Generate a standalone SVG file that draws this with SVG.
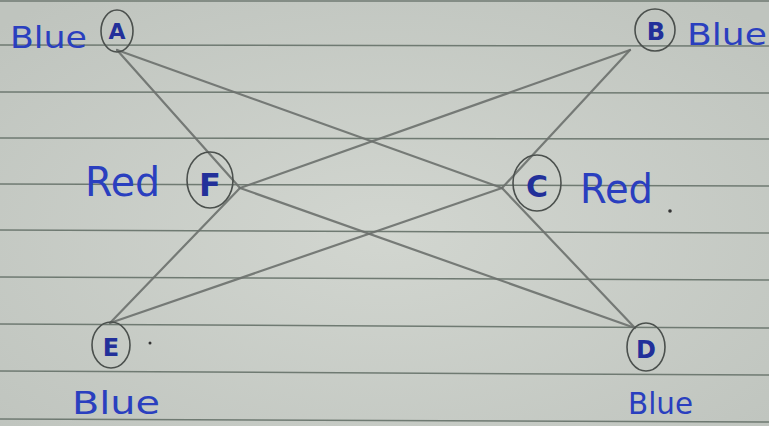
<svg xmlns="http://www.w3.org/2000/svg" width="769" height="426" viewBox="0 0 769 426">
<style>
.rule{stroke:#6f7a72;stroke-width:1.5}
.edge{stroke:#6c706d;stroke-width:2.2;stroke-linecap:round;fill:none;opacity:.9}
.ring{fill:none;stroke:#4b504d;stroke-width:1.6}
.lbl{font-family:"DejaVu Sans","Liberation Sans",sans-serif;fill:#2a3fbf;}
.let{font-family:"DejaVu Sans","Liberation Sans",sans-serif;fill:#22309a;font-weight:bold;text-anchor:middle}
</style>
<defs>
<radialGradient id="bg" cx="50%" cy="55%" r="70%">
<stop offset="0" stop-color="#d2d6d0"/>
<stop offset="1" stop-color="#bfc4be"/>
</radialGradient>
</defs>
<rect width="769" height="426" fill="url(#bg)"/>
<g id="paper-lines">
<line class="rule" x1="0" y1="1" x2="769" y2="1"/>
<line class="rule" x1="0" y1="45" x2="769" y2="46"/>
<line class="rule" x1="0" y1="92" x2="769" y2="93"/>
<line class="rule" x1="0" y1="138" x2="769" y2="139"/>
<line class="rule" x1="0" y1="184" x2="769" y2="186"/>
<line class="rule" x1="0" y1="230" x2="769" y2="233"/>
<line class="rule" x1="0" y1="277" x2="769" y2="280"/>
<line class="rule" x1="0" y1="324" x2="769" y2="328"/>
<line class="rule" x1="0" y1="371" x2="769" y2="375"/>
<line class="rule" x1="0" y1="419" x2="769" y2="422"/>
</g>
<g id="connectors">
<line class="edge" x1="117" y1="50" x2="240" y2="188"/>
<line class="edge" x1="117" y1="50" x2="502" y2="188"/>
<line class="edge" x1="630" y1="50" x2="240" y2="188"/>
<line class="edge" x1="630" y1="50" x2="502" y2="188"/>
<line class="edge" x1="110" y1="323" x2="240" y2="188"/>
<line class="edge" x1="110" y1="323" x2="502" y2="188"/>
<line class="edge" x1="635" y1="328" x2="240" y2="188"/>
<line class="edge" x1="635" y1="328" x2="502" y2="188"/>
</g>
<g id="node-A">
<ellipse class="ring" cx="117" cy="31" rx="16" ry="21"/>
<text class="let" x="117" y="39" font-size="22">A</text>
<text class="lbl" x="10" y="48" font-size="30" textLength="77" lengthAdjust="spacingAndGlyphs">Blue</text>
</g>
<g id="node-B">
<ellipse class="ring" cx="655" cy="30" rx="20" ry="21"/>
<text class="let" x="656" y="40" font-size="24">B</text>
<text class="lbl" x="687" y="45" font-size="31" textLength="80" lengthAdjust="spacingAndGlyphs">Blue</text>
</g>
<g id="node-F">
<ellipse class="ring" cx="210" cy="180" rx="23" ry="28"/>
<text class="let" x="210" y="196" font-size="32">F</text>
<text class="lbl" x="85" y="196" font-size="40" textLength="75" lengthAdjust="spacingAndGlyphs">Red</text>
</g>
<g id="node-C">
<ellipse class="ring" cx="537" cy="183" rx="24" ry="28"/>
<text class="let" x="537" y="197" font-size="30">C</text>
<text class="lbl" x="580" y="203" font-size="40" textLength="73" lengthAdjust="spacingAndGlyphs">Red</text>
<circle cx="670" cy="211" r="1.8" fill="#333"/>
</g>
<g id="node-E">
<ellipse class="ring" cx="111" cy="345" rx="19" ry="23"/>
<text class="let" x="111" y="356" font-size="24">E</text>
<text class="lbl" x="72" y="414" font-size="32" textLength="88" lengthAdjust="spacingAndGlyphs">Blue</text>
<circle cx="150" cy="343" r="1.5" fill="#333"/>
</g>
<g id="node-D">
<ellipse class="ring" cx="646" cy="347" rx="19" ry="24"/>
<text class="let" x="646" y="358" font-size="24">D</text>
<text class="lbl" x="628" y="414" font-size="30" textLength="65" lengthAdjust="spacingAndGlyphs">Blue</text>
</g>
</svg>
